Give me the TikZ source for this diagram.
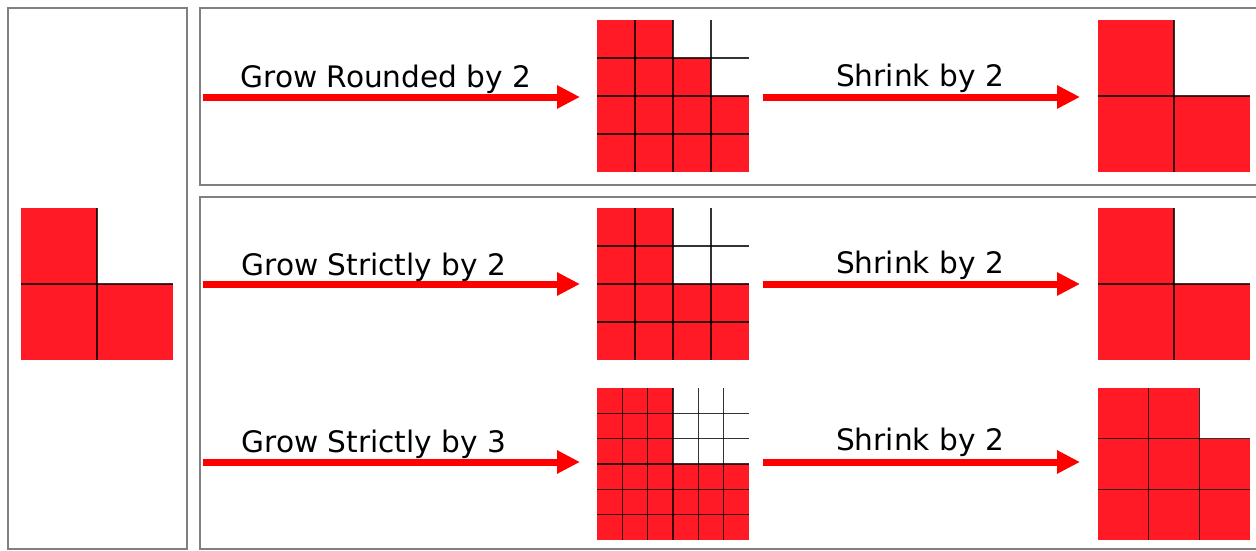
\documentclass[tikz,border=0pt]{standalone}
\usepackage{fontspec}
\setmainfont{DejaVu Sans}
\usetikzlibrary{arrows.meta}
\definecolor{cellred}{RGB}{255,26,37}
\definecolor{panelgray}{RGB}{128,128,128}
\newcommand{\gridlinesat}[5]{% x0, y0, size, m=n-1, cell
  \foreach \k in {1,...,#4}{
    \draw[gridline] ({#1+\k*#5},#2) -- ++(0,#3);
    \draw[gridline] (#1,{#2+\k*#5}) -- ++(#3,0);
  }}
\begin{document}
\begin{tikzpicture}[x=1pt,y=-1pt,
  panel/.style={draw=panelgray,line width=2.5pt},
  cellfill/.style={fill=cellred},
  gridline/.style={draw=black,line width=1.3pt,opacity=0.8},
  redarrow/.style={draw=red,line width=7pt,-{Triangle[length=23pt,width=22pt]}},
  lbl/.style={font=\fontsize{29.6}{35}\selectfont,text=black,inner sep=0pt,anchor=base}]
\clip (0,0) rectangle (1256,551);
\fill[white] (0,0) rectangle (1256,551);
% panels
\draw[panel] (8,8) rectangle (187,549);
\draw[panel] (200,8) rectangle (1275,185);
\draw[panel] (200,197) rectangle (1275,549);
% original L
\fill[cellfill] (21,208) rectangle (97,284);
\fill[cellfill] (21,284) rectangle (173,360);
\gridlinesat{21}{208}{152}{1}{76}
% row 1: grow rounded by 2
\fill[cellfill] (597,20) rectangle (673,58);
\fill[cellfill] (597,58) rectangle (711,96);
\fill[cellfill] (597,96) rectangle (749,172);
\gridlinesat{597}{20}{152}{3}{38}
\fill[cellfill] (1098,20) rectangle (1174,96);
\fill[cellfill] (1098,96) rectangle (1250,172);
\gridlinesat{1098}{20}{152}{1}{76}
% row 2: grow strictly by 2
\fill[cellfill] (597,208) rectangle (673,284);
\fill[cellfill] (597,284) rectangle (749,360);
\gridlinesat{597}{208}{152}{3}{38}
\fill[cellfill] (1098,208) rectangle (1174,284);
\fill[cellfill] (1098,284) rectangle (1250,360);
\gridlinesat{1098}{208}{152}{1}{76}
% row 3: grow strictly by 3
\fill[cellfill] (597,388) rectangle (673,464);
\fill[cellfill] (597,464) rectangle (749,540);
\gridlinesat{597}{388}{152}{5}{25.3333}
\fill[cellfill] (1098,388) rectangle (1199.33,438.67);
\fill[cellfill] (1098,438.67) rectangle (1250,540);
\gridlinesat{1098}{388}{152}{2}{50.6667}
% arrows
\coordinate (g1s) at (203,97);  \coordinate (g1e) at (580,97);
\coordinate (s1s) at (763,97);  \coordinate (s1e) at (1080,97);
\coordinate (g2s) at (203,284); \coordinate (g2e) at (580,284);
\coordinate (s2s) at (763,284); \coordinate (s2e) at (1080,284);
\coordinate (g3s) at (203,462); \coordinate (g3e) at (580,462);
\coordinate (s3s) at (763,462); \coordinate (s3e) at (1080,462);
\draw[redarrow] (g1s) -- (g1e);
\draw[redarrow] (s1s) -- (s1e);
\draw[redarrow] (g2s) -- (g2e);
\draw[redarrow] (s2s) -- (s2e);
\draw[redarrow] (g3s) -- (g3e);
\draw[redarrow] (s3s) -- (s3e);
% labels
\node[lbl] (lg1) at (386,88) {Grow Rounded by 2};
\node[lbl] (ls1) at (920,87) {Shrink by 2};
\node[lbl] (lg2) at (374,275) {Grow Strictly by 2};
\node[lbl] (ls2) at (920,273) {Shrink by 2};
\node[lbl] (lg3) at (374,452) {Grow Strictly by 3};
\node[lbl] (ls3) at (920,450) {Shrink by 2};
\end{tikzpicture}
\end{document}
